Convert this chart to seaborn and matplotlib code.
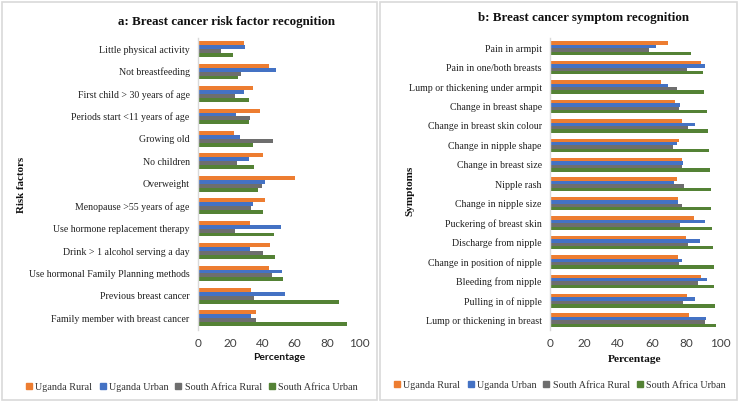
import matplotlib
matplotlib.use("Agg")
import matplotlib.pyplot as plt
from matplotlib.patches import Rectangle
from matplotlib.lines import Line2D
import seaborn as sns
import pandas as pd

# ---------------- data ----------------
groups = ["Uganda Rural", "Uganda Urban", "South Africa Rural", "South Africa Urban"]
colors = ["#ED7D31", "#4472C4", "#6E6E6E", "#548235"]

risk_factors = [
    "Little physical activity",
    "Not breastfeeding",
    "First child > 30 years of age",
    "Periods start <11 years of age",
    "Growing old",
    "No children",
    "Overweight",
    "Menopause >55 years of age",
    "Use hormone replacement therapy",
    "Drink > 1 alcohol serving a day",
    "Use hormonal Family Planning methods",
    "Previous breast cancer",
    "Family member with breast cancer",
]
risk_uganda_rural = [28.6, 44.3, 34.2, 38.5, 22.6, 40.4, 60.0, 41.6, 32.5, 44.9, 44.3, 32.9, 36.2]
risk_uganda_urban = [29.0, 48.4, 28.6, 23.6, 25.9, 31.7, 41.8, 34.2, 51.8, 32.5, 52.4, 54.0, 32.9]
risk_sa_rural = [14.5, 26.7, 23.0, 32.5, 46.8, 24.2, 39.5, 32.9, 23.0, 40.6, 46.2, 34.8, 36.2]
risk_sa_urban = [21.7, 24.8, 31.7, 31.9, 34.4, 34.8, 37.3, 40.2, 47.2, 48.0, 52.6, 87.4, 92.5]

symptoms = [
    "Pain in armpit",
    "Pain in one/both breasts",
    "Lump or thickening under armpit",
    "Change in breast shape",
    "Change in breast skin colour",
    "Change in nipple shape",
    "Change in breast size",
    "Nipple rash",
    "Change in nipple size",
    "Puckering of breast skin",
    "Discharge from nipple",
    "Change in position of nipple",
    "Bleeding from nipple",
    "Pulling in of nipple",
    "Lump or thickening in breast",
]
sym_uganda_rural = [69.6, 88.8, 65.1, 73.5, 77.6, 75.9, 77.6, 74.7, 75.1, 84.9, 79.8, 75.3, 88.8, 80.6, 81.8]
sym_uganda_urban = [62.2, 91.4, 69.4, 76.3, 85.5, 74.7, 78.4, 72.9, 75.3, 91.2, 88.0, 77.6, 92.4, 85.1, 91.6]
sym_sa_rural = [58.2, 80.4, 74.7, 76.1, 81.2, 72.5, 77.8, 79.0, 77.8, 76.5, 81.4, 75.7, 87.1, 78.0, 91.0]
sym_sa_urban = [82.7, 89.8, 90.4, 92.4, 92.9, 93.5, 94.1, 94.5, 94.5, 95.5, 95.9, 96.3, 96.5, 96.9, 97.6]

xticks = [0, 20, 40, 60, 80, 100]


def long_frame(cats, series):
    rows = []
    for g, vals in zip(groups, series):
        for c, v in zip(cats, vals):
            rows.append({"category": c, "group": g, "value": v})
    return pd.DataFrame(rows)


df_a = long_frame(risk_factors, [risk_uganda_rural, risk_uganda_urban, risk_sa_rural, risk_sa_urban])
df_b = long_frame(symptoms, [sym_uganda_rural, sym_uganda_urban, sym_sa_rural, sym_sa_urban])

# ---------------- figure ----------------
sns.set_theme(style="white")
plt.rcParams["font.family"] = ["Liberation Serif", "DejaVu Serif"]

W, H = 740, 403
fig = plt.figure(figsize=(W / 100, H / 100), dpi=100)
fig.patch.set_facecolor("white")


def fx(px):
    return px / W


def fy(py):
    return 1 - py / H


# panel borders
for (x0, y0, x1, y1) in [(2, 2, 377, 400), (380, 2, 737, 400)]:
    fig.patches.append(Rectangle((fx(x0), fy(y1)), fx(x1 - x0), (y1 - y0) / H,
                                 transform=fig.transFigure, fill=False,
                                 edgecolor="#D9D9D9", linewidth=1.2, zorder=0))

ax_a = fig.add_axes([fx(198), fy(329.5), fx(161), (329.5 - 38) / H])
ax_b = fig.add_axes([fx(550), fy(330), fx(170), (330 - 38.5) / H])

for ax, df in [(ax_a, df_a), (ax_b, df_b)]:
    sns.barplot(data=df, x="value", y="category", hue="group", hue_order=groups,
                palette=colors, orient="h", width=0.7, ax=ax, legend=False,
                saturation=1, linewidth=0, errorbar=None)
    ax.set_xlim(0, 100)
    ax.set_xticks(xticks)
    ax.set_xticklabels([str(t) for t in xticks], family="Lato", fontsize=8.5, color="#404040")
    ax.tick_params(axis="x", length=0, pad=6)
    ax.tick_params(axis="y", length=0, pad=6, labelsize=7.1, labelcolor="#202020")
    for lab in ax.get_yticklabels():
        lab.set_family("Liberation Serif")
    ax.set_xlabel("")
    ax.set_ylabel("")
    for s in ["top", "right", "bottom"]:
        ax.spines[s].set_visible(False)
    ax.spines["left"].set_color("#D9D9D9")
    ax.spines["left"].set_linewidth(1.0)
    ax.set_facecolor("white")

# titles
fig.text(fx(226), fy(22), "a: Breast cancer risk factor recognition", ha="center", va="center",
         fontsize=9.4, fontweight="bold", family="Liberation Serif", color="#111111")
fig.text(fx(584), fy(18), "b: Breast cancer symptom recognition", ha="center", va="center",
         fontsize=9.4, fontweight="bold", family="Liberation Serif", color="#111111")

# axis labels
fig.text(fx(279), fy(358), "Percentage", ha="center", va="center",
         fontsize=7.4, fontweight="bold", family="Lato", color="#111111")
fig.text(fx(635), fy(359), "Percentage", ha="center", va="center",
         fontsize=8.2, fontweight="bold", family="Liberation Serif", color="#111111")
fig.text(fx(22), fy(185), "Risk factors", ha="center", va="center", rotation=90,
         fontsize=7.8, fontweight="bold", family="Liberation Serif", color="#111111")
fig.text(fx(410), fy(191), "Symptoms", ha="center", va="center", rotation=90,
         fontsize=8.0, fontweight="bold", family="Liberation Serif", color="#111111")

# legends
handles = [Line2D([0], [0], marker="s", linestyle="none", markersize=4,
                  markerfacecolor=c, markeredgecolor=c) for c in colors]
for cx, cy in [(192, 387), (560, 385)]:
    fig.legend(handles, groups, loc="center", bbox_to_anchor=(fx(cx), fy(cy)),
               ncol=4, frameon=False, handlelength=0.6, handletextpad=0.3,
               columnspacing=0.7, prop={"family": "Liberation Serif", "size": 7.3},
               labelcolor="#333333")

fig.savefig("out.png", dpi=100, facecolor="white")
